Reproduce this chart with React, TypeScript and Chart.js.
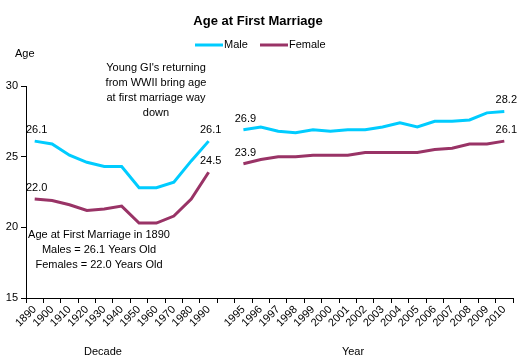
import React, { useEffect, useRef } from "react";
import { Chart, registerables } from "chart.js";

Chart.register(...registerables);

const categories = [
  "1890", "1900", "1910", "1920", "1930", "1940", "1950", "1960", "1970", "1980", "1990",
  "",
  "1995", "1996", "1997", "1998", "1999", "2000", "2001", "2002", "2003", "2004", "2005",
  "2006", "2007", "2008", "2009", "2010",
];

const maleValues = [
  26.1, 25.9, 25.1, 24.6, 24.3, 24.3, 22.8, 22.8, 23.2, 24.7, 26.1,
  null,
  26.9, 27.1, 26.8, 26.7, 26.9, 26.8, 26.9, 26.9, 27.1, 27.4, 27.1, 27.5, 27.5, 27.6, 28.1, 28.2,
];

const femaleValues = [
  22.0, 21.9, 21.6, 21.2, 21.3, 21.5, 20.3, 20.3, 20.8, 22.0, 23.9,
  null,
  24.5, 24.8, 25.0, 25.0, 25.1, 25.1, 25.1, 25.3, 25.3, 25.3, 25.3, 25.5, 25.6, 25.9, 25.9, 26.1,
];

// data labels as they appear on the original (index -> text)
const maleLabels: Record<number, string> = { 0: "26.1", 10: "26.1", 12: "26.9", 27: "28.2" };
const femaleLabels: Record<number, string> = { 0: "22.0", 10: "24.5", 12: "23.9", 27: "26.1" };

const yTicks = [15, 20, 25, 30];

const titleText = "Age at First Marriage";
const seriesNames = ["Male", "Female"];
const maleColor = "#00CCFF";
const femaleColor = "#993366";

const noteWar = ["Young GI's returning", "from WWII bring age", "at first marriage way", "down"];
const note1890 = ["Age at First Marriage in 1890", "Males = 26.1 Years Old", "Females = 22.0 Years Old"];

const FONT = "'Liberation Sans', Arial, sans-serif";

const textPlugin = {
  id: "customText",
  afterDraw(chart: any) {
    const ctx = chart.ctx;
    const xs = chart.scales.x;
    const ys = chart.scales.y;
    ctx.save();
    ctx.fillStyle = "#000";
    ctx.textBaseline = "middle";

    // title
    ctx.font = `bold 13px ${FONT}`;
    ctx.textAlign = "center";
    ctx.fillText(titleText, 258, 21);

    // legend
    ctx.font = `11px ${FONT}`;
    ctx.textAlign = "left";
    const legendItems = [
      { name: seriesNames[0], color: maleColor, x: 195 },
      { name: seriesNames[1], color: femaleColor, x: 260 },
    ];
    legendItems.forEach((it) => {
      ctx.strokeStyle = it.color;
      ctx.lineWidth = 3;
      ctx.beginPath();
      ctx.moveTo(it.x, 45);
      ctx.lineTo(it.x + 28, 45);
      ctx.stroke();
      ctx.fillStyle = "#000";
      ctx.fillText(it.name, it.x + 29, 45);
    });

    // axis titles
    ctx.textAlign = "left";
    ctx.fillText("Age", 15, 54);
    ctx.textAlign = "center";
    ctx.fillText("Decade", 103, 352);
    ctx.fillText("Year", 353, 352);

    // annotations
    noteWar.forEach((t, i) => ctx.fillText(t, 156, 68 + i * 15));
    note1890.forEach((t, i) => ctx.fillText(t, 99, 235 + i * 15));

    // data labels
    const drawLabels = (labels: Record<number, string>, values: (number | null)[]) => {
      Object.keys(labels).forEach((k) => {
        const i = Number(k);
        const v = values[i];
        if (v == null) return;
        const px = xs.getPixelForValue(i);
        const py = ys.getPixelForValue(v);
        ctx.fillText(labels[i], px + 2, py - 11);
      });
    };
    drawLabels(maleLabels, maleValues);
    drawLabels(femaleLabels, femaleValues);

    ctx.restore();
  },
};

export default function App() {
  const canvasRef = useRef<HTMLCanvasElement>(null);

  useEffect(() => {
    const canvas = canvasRef.current;
    if (!canvas) return;
    const chart = new Chart(canvas, {
      type: "line",
      data: {
        labels: categories,
        datasets: [
          {
            label: seriesNames[0],
            data: maleValues,
            borderColor: maleColor,
            backgroundColor: maleColor,
            borderWidth: 3,
            pointRadius: 0,
            tension: 0,
            spanGaps: false,
          },
          {
            label: seriesNames[1],
            data: femaleValues,
            borderColor: femaleColor,
            backgroundColor: femaleColor,
            borderWidth: 3,
            pointRadius: 0,
            tension: 0,
            spanGaps: false,
          },
        ],
      },
      options: {
        responsive: false,
        animation: false,
        layout: { padding: { left: 0, top: 86, right: 18, bottom: 0 } },
        plugins: {
          legend: { display: false },
          title: { display: false },
          tooltip: { enabled: false },
        },
        scales: {
          x: {
            type: "category",
            offset: true,
            grid: {
              offset: true,
              display: true,
              drawOnChartArea: false,
              drawTicks: true,
              tickLength: 5,
              color: "#000",
            },
            border: { display: true, color: "#000", width: 1 },
            ticks: {
              autoSkip: false,
              maxRotation: 45,
              minRotation: 45,
              color: "#000",
              padding: 0,
              font: { family: FONT, size: 11 },
            },
            afterFit: (scale: any) => {
              scale.height = 60;
            },
          },
          y: {
            min: 15,
            max: 30,
            afterBuildTicks: (scale: any) => {
              scale.ticks = yTicks.map((v) => ({ value: v }));
            },
            grid: {
              display: true,
              drawOnChartArea: false,
              drawTicks: true,
              tickLength: 5,
              color: "#000",
            },
            border: { display: true, color: "#000", width: 1 },
            ticks: {
              color: "#000",
              padding: 3,
              font: { family: FONT, size: 11 },
            },
            afterFit: (scale: any) => {
              scale.width = 26;
            },
          },
        },
      },
      plugins: [textPlugin],
    });
    return () => chart.destroy();
  }, []);

  return (
    <div style={{ position: "fixed", left: 0, top: 0, width: 531, height: 358, background: "#fff" }}>
      <canvas ref={canvasRef} width={531} height={358} style={{ width: 531, height: 358 }} />
    </div>
  );
}
